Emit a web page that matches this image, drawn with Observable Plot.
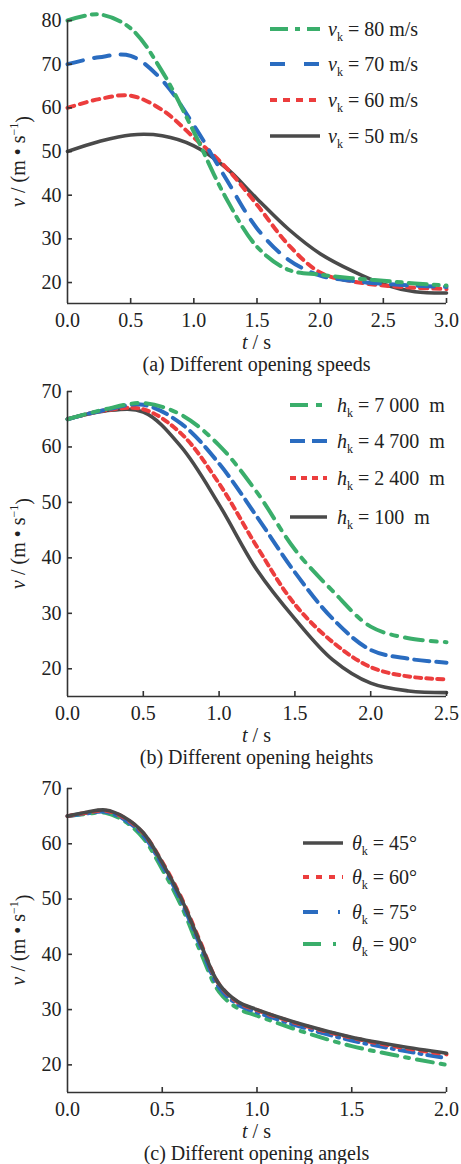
<!DOCTYPE html>
<html>
<head>
<meta charset="utf-8">
<script src="https://cdn.jsdelivr.net/npm/d3@7"></script>
<script src="https://cdn.jsdelivr.net/npm/@observablehq/plot@0.6"></script>
<style>
  body { margin: 0; background: #fff; width: 461px; font-family: "Liberation Serif", "Times New Roman", serif; }
  .caption { width: 379px; margin-left: 67px; height: 22px; line-height: 22px; text-align: center; font-size: 20px; color: #222; white-space: nowrap; }
  svg { display: block; }
</style>
</head>
<body>
<div id="chart"></div>
<script>
// (a) different opening speeds
const speedT   = [0, 0.25, 0.5, 0.75, 1.0, 1.25, 1.5, 1.75, 2.0, 2.25, 2.5, 2.75, 3.0];
const speedV80 = [80, 81.4, 78.2, 68.3, 54.5, 39.6, 28.2, 22.9, 21.8, 21.0, 20.4, 19.8, 19.3];
const speedV70 = [70, 71.6, 71.9, 66.3, 56.0, 44.0, 32.4, 25.2, 21.6, 20.4, 19.7, 19.3, 19.0];
const speedV60 = [60, 62.0, 62.8, 59.5, 53.2, 46.5, 37.8, 28.6, 22.3, 20.3, 19.3, 18.8, 18.5];
const speedV50 = [50, 52.3, 53.8, 53.6, 51.3, 46.4, 39.2, 32.2, 26.6, 22.7, 19.6, 17.9, 17.6];
const speedNames = ["80 m/s", "70 m/s", "60 m/s", "50 m/s"];
const speedXTicks = [0, 0.5, 1.0, 1.5, 2.0, 2.5, 3.0];
const speedYTicks = [20, 30, 40, 50, 60, 70, 80];

// (b) different opening heights
const heightT     = [0, 0.25, 0.5, 0.75, 1.0, 1.25, 1.5, 1.75, 2.0, 2.25, 2.5];
const heightV7000 = [65, 66.8, 67.9, 65.8, 60.3, 51.8, 41.5, 34.0, 27.6, 25.5, 24.8];
const heightV4700 = [65, 66.7, 67.6, 64.2, 57.0, 47.4, 37.4, 29.0, 23.4, 21.8, 21.1];
const heightV2400 = [65, 66.6, 66.8, 62.4, 53.4, 42.0, 31.6, 24.8, 20.3, 18.6, 18.1];
const heightV100  = [65, 66.5, 66.3, 60.0, 49.6, 37.8, 29.0, 21.6, 17.4, 16.0, 15.7];
const heightNames = ["7\u00a0000\u00a0\u00a0m", "4\u00a0700\u00a0\u00a0m", "2\u00a0400\u00a0\u00a0m", "100\u00a0\u00a0m"];
const heightXTicks = [0, 0.5, 1.0, 1.5, 2.0, 2.5];
const heightYTicks = [20, 30, 40, 50, 60, 70];

// (c) different opening angles
const angleT   = [0, 0.1, 0.2, 0.3, 0.4, 0.5, 0.6, 0.7, 0.8, 0.9, 1.0, 1.25, 1.5, 1.75, 2.0];
const angleV45 = [65, 65.7, 66.1, 64.8, 62.0, 56.6, 50.1, 42.1, 34.6, 31.4, 30.0, 27.2, 25.0, 23.4, 22.1];
const angleV60 = [65, 65.6, 66.0, 64.7, 61.9, 56.7, 50.3, 42.3, 34.6, 31.3, 29.9, 27.1, 24.9, 23.2, 21.9];
const angleV75 = [65, 65.5, 65.8, 64.4, 61.5, 56.1, 49.6, 41.6, 34.0, 30.9, 29.5, 26.7, 24.4, 22.7, 21.2];
const angleV90 = [65, 65.4, 65.6, 64.1, 61.0, 55.4, 48.8, 40.6, 33.2, 30.2, 28.9, 25.9, 23.4, 21.6, 20.0];
const angleNames = ["45°", "60°", "75°", "90°"];
const angleXTicks = [0, 0.5, 1.0, 1.5, 2.0];
const angleYTicks = [20, 30, 40, 50, 60, 70];

const W = 461, ML = 67, MR = 15;
const FONT = "'Liberation Serif', 'Times New Roman', serif";
const AXIS = "#333";
const GREEN = "#3aae6b", BLUE = "#2a6cc0", RED = "#ec3d3d", GRAY = "#4a4a4a";

function panel({t, series, symbol, xDomain, xTicks, yDomain, yTicks, marginTop, frameH, marginBottom, legend, caption}) {
  const height = marginTop + frameH + marginBottom;
  const frameW = W - ML - MR;
  const lines = series
    .map(s => ({s, rows: t.map((x, i) => ({t: x, v: s.values[i]}))}))
    .sort((a, b) => a.s.z - b.s.z);
  const chart = Plot.plot({
    width: W, height,
    marginLeft: ML, marginRight: MR, marginTop, marginBottom,
    x: {domain: xDomain},
    y: {domain: yDomain},
    style: {fontFamily: FONT, fontSize: "20px", color: "#222", background: "#fff", overflow: "visible"},
    marks: [
      Plot.axisX({ticks: xTicks, tickFormat: d3.format(".1f"), tickSize: 0, tickPadding: 9, label: null, fontSize: 20}),
      Plot.axisY({ticks: yTicks, tickSize: 0, tickPadding: 6, label: null, fontSize: 20}),
      ...lines.map(({s, rows}) =>
        Plot.line(rows, {
          x: "t", y: "v", stroke: s.color, strokeWidth: s.width,
          strokeDasharray: s.dash, curve: "catmull-rom"
        })
      ),
      Plot.ruleX([xDomain[0]], {stroke: AXIS, strokeWidth: 1.6}),
      Plot.ruleY([yDomain[0]], {stroke: AXIS, strokeWidth: 1.6}),
      Plot.tickX(xTicks.filter(d => d > xDomain[0]), {x: d => d, stroke: AXIS, strokeWidth: 1.6, insetTop: frameH - 5}),
      Plot.tickY(yTicks, {y: d => d, stroke: AXIS, strokeWidth: 1.6, insetRight: frameW - 5})
    ]
  });

  const svg = d3.select(chart);

  // axis titles with italic variables
  const yl = svg.append("text")
    .attr("transform", `translate(18,${marginTop + frameH / 2}) rotate(-90)`)
    .attr("text-anchor", "middle").attr("dy", "0.35em")
    .attr("font-size", 20).attr("fill", "#222");
  yl.append("tspan").attr("font-style", "italic").text("v");
  yl.append("tspan").text("\u00a0/\u00a0(m\u00a0•\u00a0s");
  yl.append("tspan").attr("font-size", 12).attr("dy", "-0.6em").text("−1");
  yl.append("tspan").attr("dy", "0.6em").text(")");

  const xl = svg.append("text")
    .attr("x", ML + frameW / 2).attr("y", marginTop + frameH + 38.5)
    .attr("text-anchor", "middle").attr("dy", "0.35em")
    .attr("font-size", 20).attr("fill", "#222");
  xl.append("tspan").attr("font-style", "italic").text("t");
  xl.append("tspan").text("\u00a0/\u00a0s");

  // legend
  const g = svg.append("g").attr("text-anchor", "start");
  series.forEach((s, i) => {
    const y = legend.rows[i];
    g.append("line")
      .attr("x1", legend.x1).attr("x2", legend.x2).attr("y1", y).attr("y2", y)
      .attr("stroke", s.color).attr("stroke-width", s.width)
      .attr("stroke-dasharray", s.legendDash || s.dash || null);
    const tx = g.append("text")
      .attr("x", legend.tx).attr("y", y).attr("dy", "0.35em")
      .attr("text-anchor", "start")
      .attr("font-size", 20).attr("fill", "#222");
    tx.append("tspan").attr("font-style", "italic").text(symbol);
    tx.append("tspan").attr("font-size", 12).attr("dy", "0.45em").text("k");
    tx.append("tspan").attr("dy", "-0.27em").text("\u00a0=\u00a0" + s.name);
  });

  const cap = document.createElement("div");
  cap.className = "caption";
  cap.textContent = caption;
  const wrap = document.createElement("div");
  wrap.append(chart, cap);
  return wrap;
}

const root = document.getElementById("chart");

root.append(panel({
  t: speedT,
  symbol: "v",
  series: [
    {name: speedNames[0], values: speedV80, color: GREEN, width: 4, dash: "18,7,5,7", z: 4},
    {name: speedNames[1], values: speedV70, color: BLUE, width: 4, dash: "16,11", legendDash: "15,19", z: 3},
    {name: speedNames[2], values: speedV60, color: RED, width: 4, dash: "7,6", z: 2},
    {name: speedNames[3], values: speedV50, color: GRAY, width: 3.6, dash: null, z: 1}
  ],
  xDomain: [0, 3], xTicks: speedXTicks,
  yDomain: [15.2, 80], yTicks: speedYTicks,
  marginTop: 20, frameH: 283, marginBottom: 50,
  legend: {x1: 270, x2: 320, tx: 328, rows: [29, 64, 100, 136]},
  caption: "(a) Different opening speeds"
}));

root.append(panel({
  t: heightT,
  symbol: "h",
  series: [
    {name: heightNames[0], values: heightV7000, color: GREEN, width: 4, dash: "18,8,6,8", z: 4},
    {name: heightNames[1], values: heightV4700, color: BLUE, width: 4, dash: "15,7", z: 3},
    {name: heightNames[2], values: heightV2400, color: RED, width: 4, dash: "6,5", z: 2},
    {name: heightNames[3], values: heightV100, color: GRAY, width: 3.6, dash: null, z: 1}
  ],
  xDomain: [0, 2.5], xTicks: heightXTicks,
  yDomain: [15, 70], yTicks: heightYTicks,
  marginTop: 16, frameH: 305, marginBottom: 50,
  legend: {x1: 290, x2: 327, tx: 337, rows: [30, 66, 103, 142]},
  caption: "(b) Different opening heights"
}));

root.append(panel({
  t: angleT,
  symbol: "θ",
  series: [
    {name: angleNames[0], values: angleV45, color: GRAY, width: 3.6, dash: null, z: 4},
    {name: angleNames[1], values: angleV60, color: RED, width: 4, dash: "6,7", z: 3},
    {name: angleNames[2], values: angleV75, color: BLUE, width: 4, dash: "14,6,2,6", legendDash: "15,20,2,20", z: 2},
    {name: angleNames[3], values: angleV90, color: GREEN, width: 4, dash: "16,8,4,8", legendDash: "18,12,3,20", z: 1}
  ],
  xDomain: [0, 2], xTicks: angleXTicks,
  yDomain: [15, 70], yTicks: angleYTicks,
  marginTop: 20, frameH: 304, marginBottom: 50,
  legend: {x1: 303, x2: 343, tx: 352, rows: [75, 109, 144, 176]},
  caption: "(c) Different opening angels"
}));
</script>
</body>
</html>
